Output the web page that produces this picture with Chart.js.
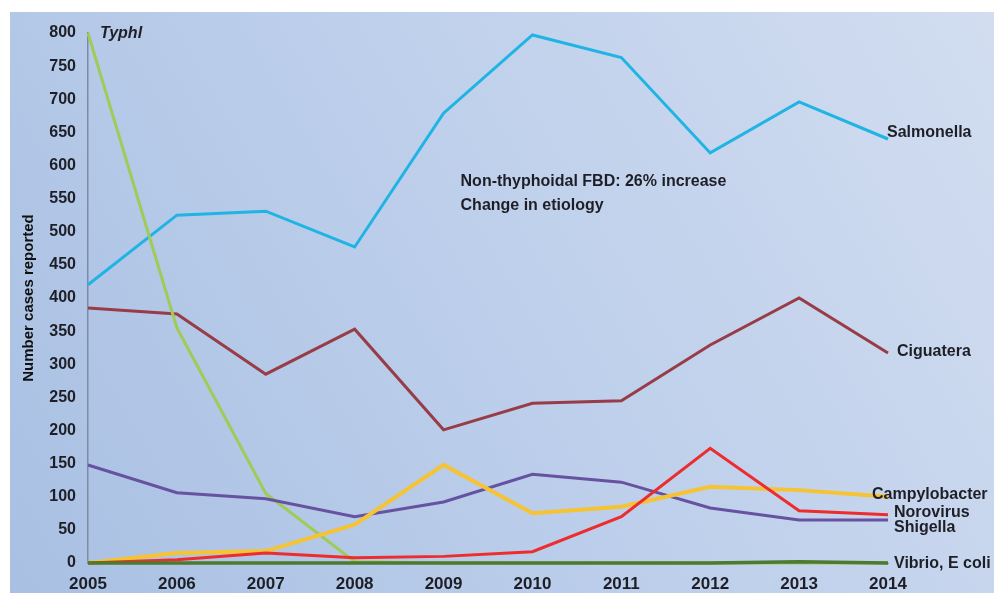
<!DOCTYPE html>
<html>
<head>
<meta charset="utf-8">
<title>Food-borne disease cases 2005-2014</title>
<script src="https://cdn.jsdelivr.net/npm/chart.js@4.4.0/dist/chart.umd.min.js"></script>
<style>
    html, body { margin: 0; padding: 0; background: #fff; }
    #wrap { width: 994px; height: 593px; }
</style>
</head>
<body>
<div id="wrap"><canvas id="fbdChart" width="994" height="593"></canvas></div>
<script>
// 資料
const years = ["2005", "2006", "2007", "2008", "2009", "2010", "2011", "2012", "2013", "2014"];
const salmonella    = [420, 525, 531, 477, 679, 797, 763, 619, 696, 640];
const ciguatera     = [385, 376, 285, 353, 201, 241, 245, 329, 400, 317];
const typhi         = [800, 355, 105, 2, 0, 0, 0, 0, 0, 0];
const shigella      = [148, 106, 97, 70, 92, 134, 122, 83, 65, 65];
const campylobacter = [0, 15, 18, 58, 148, 75, 85, 115, 110, 100];
const norovirus     = [0, 5, 15, 8, 10, 17, 70, 173, 79, 73];
const vibrioEcoli   = [0, 0, 0, 0, 0, 0, 0, 0, 2, 0];

const yMin = 0, yMax = 800, yStep = 50;
const yTitle = "Number cases reported";
const noteLines = ["Non-thyphoidal FBD: 26% increase", "Change in etiology"];

const FONT = "'Liberation Sans', Arial, sans-serif";
const TEXT_COLOR = "#1e1f26";

// 每條線的文字標籤位置 (相對於端點)
const labelOffsets = {
    "Vibrio, E coli": { at: "last", dx: 6, dy: 1 },
    "Norovirus":      { at: "last", dx: 6, dy: -2 },
    "Campylobacter":  { at: "last", dx: -16, dy: -2 },
    "Shigella":       { at: "last", dx: 6, dy: 8 },
    "Typhl":          { at: "first", dx: 12, dy: 1, italic: true },
    "Ciguatera":      { at: "last", dx: 9, dy: -1 },
    "Salmonella":     { at: "last", dx: -1, dy: -6 }
};

// 背景 (白邊 + 藍色漸層面板)
const panelBackground = {
    id: "panelBackground",
    beforeDraw(chart) {
        const ctx = chart.ctx;
        const w = chart.width, h = chart.height;
        ctx.save();
        ctx.fillStyle = "#ffffff";
        ctx.fillRect(0, 0, w, h);
        const g = ctx.createLinearGradient(10, h, w, 12);
        g.addColorStop(0, "#a9c0e3");
        g.addColorStop(0.5, "#bdcfeb");
        g.addColorStop(1, "#d2ddf0");
        ctx.fillStyle = g;
        ctx.fillRect(10, 12, w - 10, h - 12);
        ctx.restore();
    }
};

// 線尾文字與註解
const lineLabels = {
    id: "lineLabels",
    afterDatasetsDraw(chart) {
        const ctx = chart.ctx;
        ctx.save();
        ctx.fillStyle = TEXT_COLOR;
        ctx.textBaseline = "middle";
        ctx.textAlign = "left";
        chart.data.datasets.forEach((ds, i) => {
            const opt = labelOffsets[ds.label];
            if (!opt) return;
            const meta = chart.getDatasetMeta(i);
            const pt = opt.at === "first" ? meta.data[0] : meta.data[meta.data.length - 1];
            ctx.font = (opt.italic ? "italic " : "") + "bold 16px " + FONT;
            ctx.fillText(ds.label, pt.x + opt.dx, pt.y + opt.dy);
        });

        // 註解文字, 位置依座標軸
        const xs = chart.scales.x, ys = chart.scales.y;
        const nx = xs.getPixelForValue(4) + 17;
        ctx.font = "bold 16px " + FONT;
        ctx.fillText(noteLines[0], nx, ys.getPixelForValue(575));
        ctx.fillText(noteLines[1], nx, ys.getPixelForValue(539));
        ctx.restore();
    }
};

function makeSet(label, data, color, width) {
    return {
        label: label,
        data: data,
        borderColor: color,
        backgroundColor: color,
        borderWidth: width || 3,
        pointRadius: 0,
        tension: 0,
        fill: false,
        clip: false
    };
}

const ctx = document.getElementById("fbdChart").getContext("2d");
const myChart = new Chart(ctx, {
    type: "line",
    data: {
        labels: years,
        datasets: [
            makeSet("Vibrio, E coli", vibrioEcoli, "#4c7a2e", 3.5),
            makeSet("Norovirus", norovirus, "#ee2b2d"),
            makeSet("Campylobacter", campylobacter, "#f6c332", 4),
            makeSet("Shigella", shigella, "#6652a0"),
            makeSet("Typhl", typhi, "#9fcb58"),
            makeSet("Ciguatera", ciguatera, "#983c47"),
            makeSet("Salmonella", salmonella, "#20b4e4")
        ]
    },
    options: {
        responsive: false,
        animation: false,
        layout: { padding: { top: 33, right: 106, left: 0, bottom: 0 } },
        plugins: {
            legend: { display: false },
            tooltip: { enabled: false }
        },
        scales: {
            x: {
                offset: false,
                grid: { display: false, drawTicks: false },
                border: { display: true, color: "#8090aa", width: 1 },
                ticks: {
                    padding: 11,
                    autoSkip: false,
                    maxRotation: 0,
                    color: TEXT_COLOR,
                    font: { family: FONT, size: 17, weight: "bold" }
                },
                afterFit: s => { s.height = 30; }
            },
            y: {
                min: yMin,
                max: yMax,
                grid: { display: false, drawTicks: false },
                border: { display: true, color: "#7d8ba5", width: 1.5 },
                ticks: {
                    stepSize: yStep,
                    padding: 12,
                    color: TEXT_COLOR,
                    font: { family: FONT, size: 16, weight: "bold" }
                },
                title: {
                    display: true,
                    text: yTitle,
                    color: "#111",
                    font: { family: FONT, size: 15, weight: "bold" },
                    padding: { top: 20, bottom: 0 }
                },
                afterFit: s => { s.width = 88; }
            }
        }
    },
    plugins: [panelBackground, lineLabels]
});
</script>
</body>
</html>
